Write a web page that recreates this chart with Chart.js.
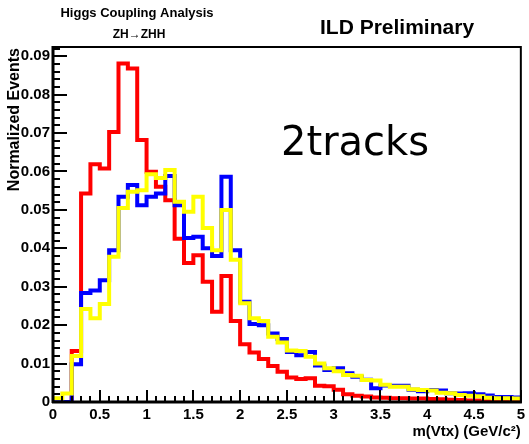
<!DOCTYPE html>
<html>
<head>
<meta charset="utf-8">
<script src="https://cdn.jsdelivr.net/npm/chart.js@4/dist/chart.umd.min.js"></script>
<style>
  body { margin: 0; background: #fff; }
  #wrap { width: 529px; height: 444px; }
</style>
</head>
<body>
<div id="wrap"><canvas id="vtxChart" width="529" height="444"></canvas></div>
<script>
// m(Vtx) histograms, 50 bins of 0.1 GeV from 0 to 5
const binWidth = 0.1;

const redVals = [
  0, 0, 0.0133, 0.0543, 0.0619, 0.0608, 0.0703, 0.0881, 0.0868, 0.0682,
  0.0599, 0.0560, 0.0525, 0.0425, 0.0362, 0.0382, 0.0313, 0.0235, 0.0328, 0.0211,
  0.0150, 0.0129, 0.0112, 0.0094, 0.0079, 0.0064, 0.0060, 0.0062, 0.0042, 0.0041,
  0.0032, 0.0020, 0.0016, 0.0014, 0.0012, 0.0011, 0.0010, 0.0010, 0.0009, 0.0009,
  0.0008, 0.0007, 0.0006, 0.0005, 0.0004, 0.0004, 0.0003, 0.0002, 0.0002, 0.0001
];

const blueVals = [
  0, 0, 0.0098, 0.0284, 0.0290, 0.0317, 0.0395, 0.0534, 0.0565, 0.0512,
  0.0534, 0.0543, 0.0588, 0.0512, 0.0427, 0.0430, 0.0400, 0.0380, 0.0586, 0.0395,
  0.0261, 0.0203, 0.0200, 0.0178, 0.0164, 0.0130, 0.0122, 0.0130, 0.0095, 0.0083,
  0.0088, 0.0075, 0.0066, 0.0058, 0.0036, 0.0043, 0.0042, 0.0042, 0.0032, 0.0028,
  0.0031, 0.0030, 0.0023, 0.0022, 0.0023, 0.0020, 0.0017, 0.0013, 0.0013, 0.0012
];

const yellowVals = [
  0.0010, 0.0022, 0.0120, 0.0242, 0.0218, 0.0255, 0.0378, 0.0505, 0.0547, 0.0551,
  0.0593, 0.0583, 0.0604, 0.0521, 0.0495, 0.0534, 0.0453, 0.0395, 0.0500, 0.0370,
  0.0257, 0.0218, 0.0211, 0.0170, 0.0155, 0.0134, 0.0133, 0.0118, 0.0100, 0.0088,
  0.0080, 0.0070, 0.0068, 0.0057, 0.0056, 0.0045, 0.0040, 0.0040, 0.0033, 0.0031,
  0.0030, 0.0024, 0.0023, 0.0018, 0.0016, 0.0015, 0.0011, 0.0010, 0.0010, 0.0009
];

const xTicks = [0, 0.5, 1, 1.5, 2, 2.5, 3, 3.5, 4, 4.5, 5];
const yTicks = [0, 0.01, 0.02, 0.03, 0.04, 0.05, 0.06, 0.07, 0.08, 0.09];
const xMax = 5;
const yMax = 0.0924;

// left bin edges + closing point so the last bin gets its full width
function toSteps(vals) {
  const pts = vals.map((v, i) => ({ x: +(i * binWidth).toFixed(2), y: v }));
  pts.push({ x: +(vals.length * binWidth).toFixed(2), y: vals[vals.length - 1] });
  return pts;
}

function line(ctx, x1, y1, x2, y2) {
  ctx.beginPath();
  ctx.moveTo(x1, y1);
  ctx.lineTo(x2, y2);
  ctx.stroke();
}

// ROOT style frame with ticks pointing into the pad
const rootFrame = {
  id: 'rootFrame',
  afterDatasetsDraw(chart) {
    const { ctx, chartArea: a, scales: { x, y } } = chart;
    ctx.save();
    ctx.strokeStyle = '#000';
    ctx.lineWidth = 2;

    for (let k = 0; k * 0.002 <= yMax; k++) {
      const py = Math.round(y.getPixelForValue(k * 0.002));
      line(ctx, a.left, py, a.left + (k % 5 === 0 ? 14 : 7), py);
    }
    for (let k = 0; k <= 50; k++) {
      const px = Math.round(x.getPixelForValue(k * 0.1));
      line(ctx, px, a.bottom, px, a.bottom - (k % 5 === 0 ? 12 : 6));
    }

    ctx.strokeRect(a.left, a.top, a.right - a.left, a.bottom - a.top);
    ctx.lineWidth = 3;
    line(ctx, a.left, a.top - 1, a.left, a.bottom + 1);
    line(ctx, a.left - 1, a.bottom, a.right + 1, a.bottom);
    ctx.restore();
  },
  afterDraw(chart) {
    const { ctx, chartArea: a } = chart;
    ctx.save();
    ctx.fillStyle = '#000';
    ctx.textBaseline = 'middle';

    ctx.textAlign = 'center';
    ctx.font = 'bold 13px "Liberation Sans"';
    ctx.fillText('Higgs Coupling Analysis', 137, 13);
    ctx.font = 'bold 12px "Liberation Sans"';
    ctx.fillText('ZH\u2192ZHH', 139, 35);

    ctx.textAlign = 'left';
    ctx.font = 'bold 21px "Liberation Sans"';
    ctx.fillText('ILD Preliminary', 320, 28);

    ctx.textBaseline = 'alphabetic';
    ctx.font = '40px "DejaVu Sans"';
    ctx.fillText('2tracks', 281, 155);

    ctx.textBaseline = 'middle';
    ctx.textAlign = 'right';
    ctx.font = 'bold 15px "Liberation Sans"';
    ctx.fillText('m(Vtx) (GeV/c\u00b2)', a.right, 432);

    ctx.translate(15, 48);
    ctx.rotate(-Math.PI / 2);
    ctx.font = 'bold 16px "Liberation Sans"';
    ctx.fillText('Normalized Events', 0, 0);
    ctx.restore();
  }
};

Chart.defaults.font.family = '"Liberation Sans", Arial, sans-serif';
Chart.defaults.font.weight = 'bold';
Chart.defaults.font.size = 15;
Chart.defaults.color = '#000';

const series = [
  { label: 'yellow', vals: yellowVals, color: '#ffff00' },
  { label: 'blue', vals: blueVals, color: '#0000ff' },
  { label: 'red', vals: redVals, color: '#ff0000' }
];

new Chart(document.getElementById('vtxChart'), {
  type: 'line',
  data: {
    datasets: series.map(s => ({
      label: s.label,
      data: toSteps(s.vals),
      borderColor: s.color,
      borderWidth: 4,
      stepped: 'before',
      pointRadius: 0,
      fill: false
    }))
  },
  options: {
    responsive: false,
    animation: false,
    layout: { padding: { top: 47, right: 5, left: 0, bottom: 0 } },
    plugins: {
      legend: { display: false },
      tooltip: { enabled: false }
    },
    scales: {
      x: {
        type: 'linear',
        min: 0,
        max: xMax,
        afterFit: s => { s.height = 42; },
        afterBuildTicks: s => { s.ticks = xTicks.map(v => ({ value: v })); },
        grid: { display: false, drawTicks: false },
        border: { display: false },
        ticks: {
          padding: 4,
          autoSkip: false,
          maxRotation: 0,
          callback: v => String(v)
        }
      },
      y: {
        type: 'linear',
        min: 0,
        max: yMax,
        afterFit: s => { s.width = 53; },
        afterBuildTicks: s => { s.ticks = yTicks.map(v => ({ value: v })); },
        grid: { display: false, drawTicks: false },
        border: { display: false },
        ticks: {
          padding: 3,
          callback: v => (v === 0 ? '0' : v.toFixed(2))
        }
      }
    }
  },
  plugins: [rootFrame]
});
</script>
</body>
</html>
